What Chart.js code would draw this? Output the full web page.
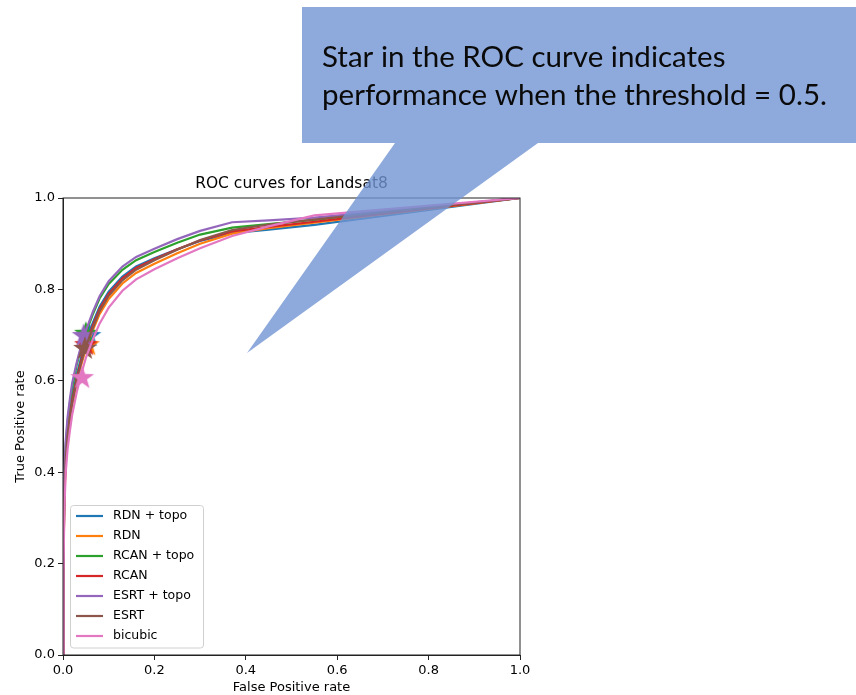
<!DOCTYPE html>
<html>
<head>
<meta charset="utf-8">
<script src="https://cdn.jsdelivr.net/npm/chart.js@4.4.1/dist/chart.umd.min.js"></script>
<style>
  html, body { margin: 0; padding: 0; background: #fff; }
  #wrap { width: 856px; height: 695px; position: relative; }
</style>
</head>
<body>
<div id="wrap"><canvas id="rocChart" width="856" height="695"></canvas></div>
<script>
// ROC curves, values
const seriesNames = ["RDN + topo", "RDN", "RCAN + topo", "RCAN", "ESRT + topo", "ESRT", "bicubic"];
const fprGrid = [0, 0.001, 0.003, 0.006, 0.01, 0.015, 0.02, 0.03, 0.04, 0.05, 0.065, 0.08, 0.1, 0.13, 0.16, 0.2, 0.25, 0.3, 0.37, 0.45, 0.55, 1];
const tprRdnTopo  = [0, 0.22, 0.36, 0.44, 0.49, 0.53, 0.565, 0.613, 0.652, 0.686, 0.726, 0.762, 0.795, 0.828, 0.85, 0.868, 0.888, 0.906, 0.923, 0.931, 0.941, 1];
const tprRdn      = [0, 0.20, 0.34, 0.42, 0.47, 0.51, 0.545, 0.595, 0.635, 0.67, 0.71, 0.746, 0.779, 0.813, 0.836, 0.856, 0.879, 0.90, 0.922, 0.934, 0.946, 1];
const tprRcanTopo = [0, 0.24, 0.38, 0.46, 0.51, 0.55, 0.585, 0.635, 0.673, 0.705, 0.745, 0.78, 0.812, 0.843, 0.864, 0.882, 0.902, 0.92, 0.935, 0.943, 0.952, 1];
const tprRcan     = [0, 0.20, 0.35, 0.43, 0.48, 0.52, 0.555, 0.605, 0.645, 0.68, 0.72, 0.757, 0.79, 0.824, 0.847, 0.866, 0.888, 0.907, 0.927, 0.937, 0.948, 1];
const tprEsrtTopo = [0, 0.25, 0.40, 0.47, 0.52, 0.56, 0.595, 0.64, 0.678, 0.71, 0.75, 0.785, 0.818, 0.85, 0.871, 0.889, 0.91, 0.928, 0.947, 0.951, 0.957, 1];
const tprEsrt     = [0, 0.21, 0.35, 0.43, 0.48, 0.52, 0.55, 0.60, 0.64, 0.675, 0.715, 0.752, 0.786, 0.82, 0.843, 0.864, 0.887, 0.908, 0.93, 0.942, 0.953, 1];
const tprBicubic  = [0, 0.18, 0.32, 0.40, 0.45, 0.49, 0.525, 0.575, 0.615, 0.65, 0.69, 0.725, 0.76, 0.797, 0.822, 0.844, 0.868, 0.89, 0.917, 0.938, 0.962, 1];
// threshold = 0.5 points (stars)
const starFpr = [0.058, 0.055, 0.05, 0.05, 0.045, 0.048, 0.042];
const starTpr = [0.70, 0.68, 0.705, 0.68, 0.70, 0.672, 0.608];
const axisTicks = [0, 0.2, 0.4, 0.6, 0.8, 1.0];

const colors = ["#1f77b4", "#ff7f0e", "#2ca02c", "#d62728", "#9467bd", "#8c564b", "#e377c2"];
const tprSeries = [tprRdnTopo, tprRdn, tprRcanTopo, tprRcan, tprEsrtTopo, tprEsrt, tprBicubic];

function makeStar(color) {
  const c = document.createElement("canvas");
  c.width = 28; c.height = 28;
  const g = c.getContext("2d");
  const R = 12.5, r = 5;
  g.beginPath();
  for (let k = 0; k < 10; k++) {
    const rad = k % 2 === 0 ? R : r;
    const a = -Math.PI / 2 + k * Math.PI / 5;
    g.lineTo(14 + rad * Math.cos(a), 14.8 + rad * Math.sin(a));
  }
  g.closePath();
  g.fillStyle = color;
  g.fill();
  return c;
}

const datasets = [];
seriesNames.forEach((name, i) => {
  datasets.push({
    label: name,
    data: fprGrid.map((x, j) => ({ x, y: tprSeries[i][j] })),
    borderColor: colors[i],
    backgroundColor: colors[i],
    borderWidth: 2.2,
    showLine: true,
    pointRadius: 0,
    tension: 0
  });
  datasets.push({
    label: name + " star",
    data: [{ x: starFpr[i], y: starTpr[i] }],
    pointStyle: makeStar(colors[i]),
    pointRadius: 12,
    showLine: false
  });
});
datasets.forEach((d, i) => { d.order = datasets.length - i; });

const frame = {
  id: "frame",
  afterDatasetsDraw(chart) {
    const { ctx, chartArea: a } = chart;
    ctx.save();
    ctx.strokeStyle = "#222";
    ctx.lineWidth = 1;
    ctx.strokeRect(a.left, a.top, a.right - a.left, a.bottom - a.top);

    // legend box, lower left inside the axes
    const lx = 70.5, ly = 505.5, lw = 133, lh = 142.5;
    ctx.beginPath();
    ctx.roundRect(lx, ly, lw, lh, 3);
    ctx.fillStyle = "rgba(255,255,255,0.8)";
    ctx.fill();
    ctx.strokeStyle = "#d0d0d0";
    ctx.stroke();
    ctx.font = "12.5px 'DejaVu Sans'";
    ctx.textBaseline = "middle";
    seriesNames.forEach((name, i) => {
      const y = 516 + i * 20;
      ctx.beginPath();
      ctx.moveTo(76, y);
      ctx.lineTo(103, y);
      ctx.strokeStyle = colors[i];
      ctx.lineWidth = 2.2;
      ctx.stroke();
      ctx.fillStyle = "#000";
      ctx.fillText(name, 113, y);
    });
    ctx.restore();
  },
  afterDraw(chart) {
    // callout balloon
    const ctx = chart.ctx;
    ctx.save();
    ctx.beginPath();
    ctx.moveTo(302, 7);
    ctx.lineTo(856, 7);
    ctx.lineTo(856, 143);
    ctx.lineTo(538, 143);
    ctx.lineTo(247, 353);
    ctx.lineTo(395, 143);
    ctx.lineTo(302, 143);
    ctx.closePath();
    ctx.fillStyle = "rgba(114,147,210,0.8)";
    ctx.fill();

    const line1 = "Star in the ROC curve indicates";
    const line2 = "performance when the threshold = 0.5.";
    ctx.font = "28px Lato";
    const sx = 505 / ctx.measureText(line2).width;
    ctx.fillStyle = "#0a0a0a";
    ctx.textBaseline = "alphabetic";
    [[line1, 67], [line2, 105]].forEach(([t, by]) => {
      ctx.save();
      ctx.translate(322, by);
      ctx.scale(sx, 1);
      ctx.fillText(t, 0, 0);
      ctx.restore();
    });
    ctx.restore();
  }
};

const tickFont = { family: "DejaVu Sans", size: 13 };

new Chart(document.getElementById("rocChart"), {
  type: "scatter",
  data: { datasets },
  options: {
    responsive: false,
    animation: false,
    layout: { padding: { left: 0, right: 336, top: 175, bottom: 0 } },
    plugins: {
      legend: { display: false },
      tooltip: { enabled: false },
      title: {
        display: true,
        text: "ROC curves for Landsat8",
        fullSize: false,
        color: "#000",
        font: { family: "DejaVu Sans", size: 15.5, weight: "normal" },
        padding: { top: 0, bottom: 4.4 }
      }
    },
    scales: {
      x: {
        type: "linear",
        min: 0, max: 1,
        afterBuildTicks: s => { s.ticks = axisTicks.map(v => ({ value: v })); },
        afterFit: s => { s.height = 40; },
        ticks: { color: "#000", font: tickFont, padding: 3, callback: v => v.toFixed(1) },
        grid: { drawOnChartArea: false, drawTicks: true, tickLength: 5, color: "#222" },
        border: { color: "#222" },
        title: { display: true, text: "False Positive rate", color: "#000", font: tickFont, padding: { top: 0, bottom: 0 } }
      },
      y: {
        type: "linear",
        min: 0, max: 1,
        afterBuildTicks: s => { s.ticks = axisTicks.map(v => ({ value: v })); },
        afterFit: s => { s.width = 63; },
        ticks: { color: "#000", font: tickFont, padding: 3, callback: v => v.toFixed(1) },
        grid: { drawOnChartArea: false, drawTicks: true, tickLength: 5, color: "#222" },
        border: { color: "#222" },
        title: { display: true, text: "True Positive rate", color: "#000", font: tickFont, padding: { top: 12.5, bottom: 0 } }
      }
    }
  },
  plugins: [frame]
});
</script>
</body>
</html>
